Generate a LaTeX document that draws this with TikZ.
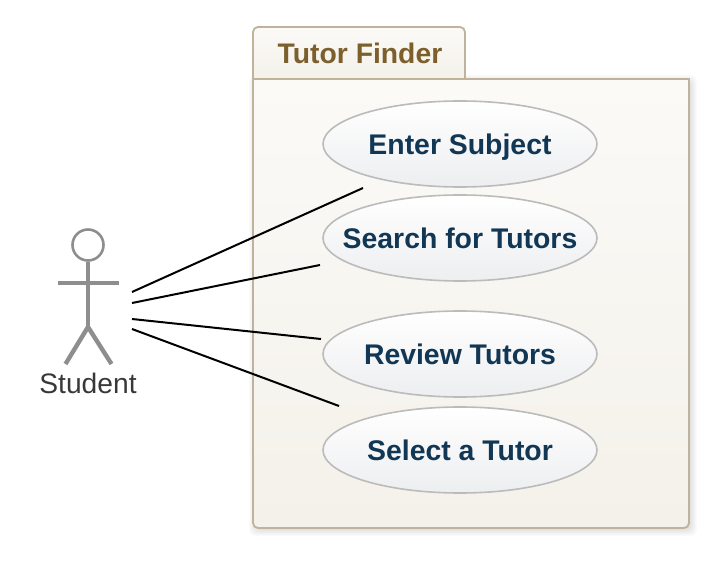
\documentclass[tikz,border=0pt]{standalone}
\usepackage{fontspec}
\setmainfont{Liberation Sans}
\usetikzlibrary{shapes,positioning}
\definecolor{pkgline}{HTML}{BFB39B}
\definecolor{pkgtop}{HTML}{FBFAF7}
\definecolor{pkgbot}{HTML}{F4F1EA}
\definecolor{pkgtext}{HTML}{7D5F2C}
\definecolor{casetop}{HTML}{FFFFFF}
\definecolor{casebot}{HTML}{EDEEF0}
\definecolor{casetext}{HTML}{123755}
\definecolor{caseline}{HTML}{BBBBBB}
\definecolor{actorline}{HTML}{8E8E8E}
\begin{document}
\begin{tikzpicture}[x=1pt, y=-1pt,
		usecase/.style={ellipse, draw=caseline, line width=1.6pt, top color=casetop, bottom color=casebot,
			minimum width=274pt, minimum height=86pt, inner xsep=-30pt, inner ysep=0pt, text=casetext,
			text height=21pt, text depth=0pt, font=\fontsize{28.4}{32}\selectfont\bfseries},
		pkgtab/.style={draw=pkgline, line width=1.8pt, top color=pkgtop, bottom color=pkgbot},
		actor/.style={draw=actorline, line width=4.4pt},
		link/.style={draw=black, line width=2pt}]
	\useasboundingbox (0,0) rectangle (726,572);
	%% Package
	\foreach \w in {1,2,...,8}
		\fill[black, opacity=0.016, rounded corners=6pt] (253+4-\w,79+4-\w) rectangle (689+\w,528+\w);
	\draw[pkgtab, rounded corners=5pt] (253,79) -- (253,27) -- (465,27) -- (465,79);
	\path[top color=pkgtop, bottom color=pkgbot, rounded corners=5pt] (253,79) [sharp corners] -- (689,79) [rounded corners=5pt] -- (689,528) -- (253,528) -- cycle;
	\draw[pkgline, line width=1.8pt, rounded corners=5pt] (689,79) -- (689,528) -- (253,528) -- (253,79);
	\draw[pkgline, line width=1.8pt, line cap=rect] (253,79) -- (689,79);
	\node (title) at (360,54) [text=pkgtext, text height=20pt, text depth=0pt, font=\fontsize{28.3}{32}\selectfont\bfseries] {Tutor Finder};
	%% Use cases
	\node [usecase] (enter) at (460,144) {Enter Subject};
	\node [usecase] (search) at (460,238) {Search for Tutors};
	\node [usecase] (review) at (460,354) {Review Tutors};
	\node [usecase] (select) at (460,450) {Select a Tutor};
	%% Actor
	\node [circle, draw=actorline, line width=2.6pt, fill=white, minimum size=31pt, inner sep=0pt] (head) at (88,245) {};
	\coordinate (hip) at (88,327);
	\coordinate (armL) at (58,283);
	\coordinate (armR) at (119,283);
	\coordinate (footL) at (65.5,364);
	\coordinate (footR) at (111.5,364);
	\draw [actor] (head) -- (hip);
	\draw [actor] (armL) -- (armR);
	\draw [actor] (footL) -- (hip) -- (footR);
	\node (student) at (88,383.5) [text=black!78, font=\fontsize{28.2}{32}\selectfont] {Student};
	%% Links
	\coordinate (a1) at (132,292);
	\coordinate (a2) at (132,303);
	\coordinate (a3) at (132,319);
	\coordinate (a4) at (132,329);
	\coordinate (e1) at (363,188);
	\coordinate (e2) at (320,265);
	\coordinate (e3) at (321,339);
	\coordinate (e4) at (339,406);
	\path [link] (a1) to (e1);
	\path [link] (a2) to (e2);
	\path [link] (a3) to (e3);
	\path [link] (a4) to (e4);
\end{tikzpicture}
\end{document}
